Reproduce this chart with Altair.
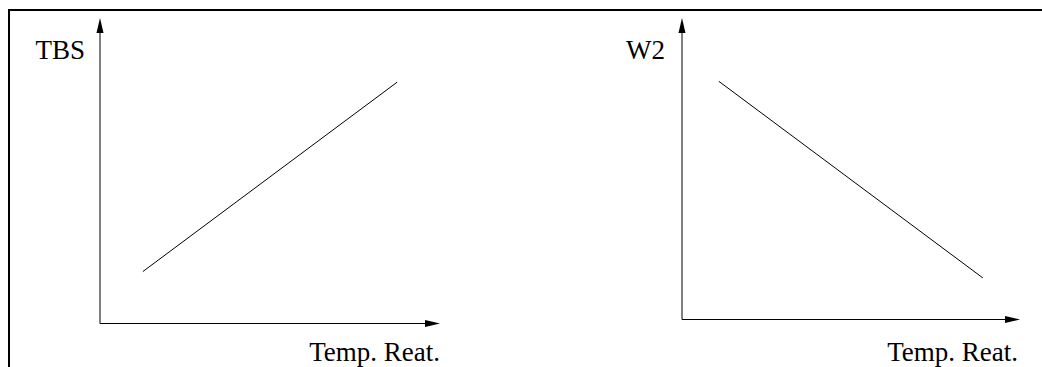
import altair as alt
import pandas as pd

# Schematic trends, in fractions of each axis length
temp_left = [0.126, 0.874]
tbs_values = [0.17, 0.79]

temp_right = [0.109, 0.89]
w2_values = [0.79, 0.138]

x_label = "Temp. Reat."
y_label_left = "TBS"
y_label_right = "W2"

FONT = "Times New Roman"
FONT_SIZE = 27

# Arrowheads as custom symbol paths (bounding box -1..1)
ARROW_RIGHT = "M1,0 L-1,-0.47 L-1,0.47 Z"
ARROW_UP = "M0,-1 L-0.47,1 L0.47,1 Z"
HEAD = 15  # arrowhead length in px


def panel(temps, values, y_title, x_range, y_range, ylab_x, xlab_x, xlab_y):
    xs = alt.Scale(domain=[0, 1], range=x_range)
    ys = alt.Scale(domain=[0, 1], range=y_range)

    trend = pd.DataFrame({"t": temps, "v": values})
    axes = pd.DataFrame({"x": [0, 0], "y": [0, 0], "x2": [1, 0], "y2": [0, 1]})

    x_axis = alt.Chart(axes.iloc[[0]]).mark_rule(color="black", strokeWidth=1.2).encode(
        x=alt.X("x:Q", scale=xs, axis=None),
        x2=alt.X2("x2:Q"),
        y=alt.Y("y:Q", scale=ys, axis=None),
    ).transform_calculate(x2="datum.x2 - 0.03")
    y_axis = alt.Chart(axes.iloc[[1]]).mark_rule(color="black", strokeWidth=1).encode(
        x=alt.X("x:Q", scale=xs, axis=None),
        y=alt.Y("y:Q", scale=ys, axis=None),
        y2=alt.Y2("y2:Q"),
    ).transform_calculate(y2="datum.y2 - 0.03")

    head_x = alt.Chart(axes.iloc[[0]]).mark_point(
        shape=ARROW_RIGHT, filled=True, size=HEAD * HEAD, color="black",
        opacity=1, xOffset=-HEAD / 2,
    ).encode(x=alt.X("x2:Q", scale=xs, axis=None), y=alt.Y("y:Q", scale=ys, axis=None))
    head_y = alt.Chart(axes.iloc[[1]]).mark_point(
        shape=ARROW_UP, filled=True, size=HEAD * HEAD, color="black",
        opacity=1, yOffset=HEAD / 2,
    ).encode(x=alt.X("x:Q", scale=xs, axis=None), y=alt.Y("y2:Q", scale=ys, axis=None))

    line = alt.Chart(trend).mark_line(color="black", strokeWidth=1).encode(
        x=alt.X("t:Q", scale=xs, axis=None),
        y=alt.Y("v:Q", scale=ys, axis=None),
    )

    ylab = alt.Chart(pd.DataFrame({"s": [y_title]})).mark_text(
        font=FONT, fontSize=FONT_SIZE, align="right", baseline="alphabetic", color="black"
    ).encode(text="s:N", x=alt.value(ylab_x), y=alt.value(59))
    xlab = alt.Chart(pd.DataFrame({"s": [x_label]})).mark_text(
        font=FONT, fontSize=FONT_SIZE, align="right", baseline="alphabetic", color="black"
    ).encode(text="s:N", x=alt.value(xlab_x), y=alt.value(xlab_y))

    return alt.layer(x_axis, y_axis, head_x, head_y, line, ylab, xlab)


left = panel(temp_left, tbs_values, y_label_left, [100, 440], [323.5, 18], 85, 440, 361)
right = panel(temp_right, w2_values, y_label_right, [682, 1020], [319.5, 18], 665, 1018, 361)

# Figure frame: top and left edges
frame_top = alt.Chart(pd.DataFrame({"k": [0]})).mark_rule(color="black", strokeWidth=2).encode(
    x=alt.value(8), x2=alt.value(1042), y=alt.value(10)
)
frame_left = alt.Chart(pd.DataFrame({"k": [0]})).mark_rule(color="black", strokeWidth=2).encode(
    x=alt.value(9), y=alt.value(9), y2=alt.value(367)
)

chart = alt.layer(left, right, frame_top, frame_left).resolve_scale(
    x="independent", y="independent"
).properties(
    width=1042, height=367, autosize=alt.AutoSizeParams(type="none"), padding=0,
    background="white",
).configure_view(stroke=None)

chart.save("out.html", embed_options={"renderer": "svg", "actions": False})
